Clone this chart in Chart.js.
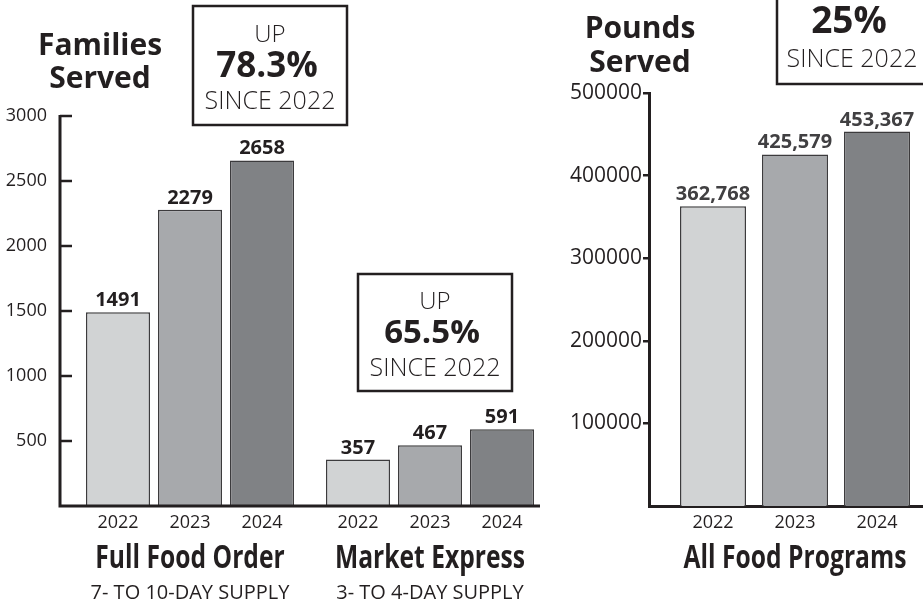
<!DOCTYPE html>
<html>
<head>
<meta charset="utf-8">
<script src="https://cdn.jsdelivr.net/npm/chart.js@4.4.1/dist/chart.umd.min.js"></script>
<style>
  html, body { margin: 0; padding: 0; background: #fff; overflow: hidden; width: 923px; height: 604px; }
  canvas { position: absolute; top: 0; }
  #families { left: 0; }
  #pounds { left: 560px; }
</style>
</head>
<body>
<canvas id="families" width="570" height="604"></canvas>
<canvas id="pounds" width="400" height="604"></canvas>
<script>
const years = ['2022', '2023', '2024'];
const yearColors = ['#d1d3d4', '#a7a9ac', '#808285'];

const familyPrograms = ['Full Food Order', 'Market Express'];
const familySupply = ['7- TO 10-DAY SUPPLY', '3- TO 4-DAY SUPPLY'];
const families2022 = [1491, 357];
const families2023 = [2279, 467];
const families2024 = [2658, 591];

const poundPrograms = ['All Food Programs'];
const poundSupply = [''];
const pounds2022 = [362768];
const pounds2023 = [425579];
const pounds2024 = [453367];

const INK = '#231f20';
Chart.defaults.font.family = "'Open Sans'";
Chart.defaults.color = INK;

const makeSets = (rows) => rows.map((data, i) => ({
  label: years[i],
  data: data,
  backgroundColor: yearColors[i],
  borderColor: '#3c3b3d',
  borderWidth: 1.5
}));

// values above bars, years under bars, program names under the groups
const barText = {
  id: 'barText',
  afterDatasetsDraw(chart, args, opts) {
    const ctx = chart.ctx;
    const bottom = chart.chartArea.bottom;
    ctx.save();
    ctx.textAlign = 'center';
    ctx.textBaseline = 'alphabetic';
    chart.data.datasets.forEach((ds, di) => {
      chart.getDatasetMeta(di).data.forEach((bar, i) => {
        ctx.fillStyle = opts.valueColor;
        ctx.font = 'bold 20px "Open Sans"';
        ctx.fillText(opts.format(ds.data[i]), bar.x, bar.y - 6);
        ctx.fillStyle = INK;
        ctx.font = '18px "Open Sans"';
        ctx.fillText(ds.label, bar.x, bottom + 22);
      });
    });
    const xs = chart.scales.x;
    chart.data.labels.forEach((lab, i) => {
      const cx = xs.getPixelForValue(i);
      ctx.fillStyle = INK;
      ctx.save();
      ctx.translate(cx, bottom + 62);
      ctx.scale(0.77, 1);
      ctx.font = 'bold 32px "Open Sans"';
      ctx.fillText(lab, 0, 0);
      ctx.restore();
      ctx.font = '20px "Open Sans"';
      ctx.fillText(opts.supply[i], cx, bottom + 93);
    });
    ctx.restore();
  }
};

// titles and the "UP ... SINCE 2022" boxes
const decor = {
  id: 'decor',
  afterDraw(chart, args, opts) {
    const ctx = chart.ctx;
    ctx.save();
    ctx.fillStyle = INK;
    ctx.textAlign = 'center';
    ctx.textBaseline = 'alphabetic';
    ctx.font = 'bold 30px "Open Sans"';
    opts.title.lines.forEach((t, i) => ctx.fillText(t, opts.title.x, opts.title.y[i]));
    opts.boxes.forEach(b => {
      ctx.strokeStyle = INK;
      ctx.lineWidth = 2.5;
      ctx.strokeRect(b.x, b.y, b.w, b.h);
      ctx.font = '300 24px "Open Sans"';
      ctx.fillText('UP', b.cx, b.y1);
      ctx.font = 'bold ' + b.size + 'px "Open Sans"';
      ctx.fillText(b.pct, b.cx - 3, b.y2);
      ctx.font = '300 25px "Open Sans"';
      ctx.fillText('SINCE 2022', b.cx, b.y3);
    });
    ctx.restore();
  }
};

// axis lines + short tick marks pointing into the plot (left chart)
const leftAxes = {
  id: 'leftAxes',
  afterDraw(chart, args, opts) {
    const ys = chart.scales.y;
    const ctx = chart.ctx;
    const ax = opts.axisX;
    const top = ys.getPixelForValue(ys.max);
    const bottom = chart.chartArea.bottom;
    ctx.save();
    ctx.strokeStyle = INK;
    ctx.lineWidth = 3;
    ctx.beginPath();
    ctx.moveTo(ax, top - 1);
    ctx.lineTo(ax, bottom);
    ctx.lineTo(chart.chartArea.right - 10, bottom);
    ctx.stroke();
    ctx.lineWidth = 2.5;
    ys.ticks.forEach(t => {
      if (t.value === 0) return;
      const y = ys.getPixelForValue(t.value);
      ctx.beginPath();
      ctx.moveTo(ax, y);
      ctx.lineTo(ax + 12, y);
      ctx.stroke();
    });
    ctx.restore();
  }
};

new Chart(document.getElementById('families'), {
  type: 'bar',
  data: {
    labels: familyPrograms,
    datasets: makeSets([families2022, families2023, families2024])
  },
  options: {
    responsive: false,
    animation: false,
    categoryPercentage: 0.9,
    barPercentage: 0.89,
    layout: { padding: { top: 116, right: 20, left: 0, bottom: 0 } },
    plugins: {
      legend: { display: false },
      tooltip: { enabled: false },
      barText: { valueColor: INK, format: v => String(v), supply: familySupply },
      leftAxes: { axisX: 60 },
      decor: {
        title: { lines: ['Families', 'Served'], x: 100, y: [55, 88] },
        boxes: [
          { x: 193, y: 6, w: 154, h: 119, cx: 270, y1: 42, y2: 77, y3: 109, pct: '78.3%', size: 35 },
          { x: 358, y: 274, w: 154, h: 117, cx: 435, y1: 309, y2: 343, y3: 376, pct: '65.5%', size: 33 }
        ]
      }
    },
    scales: {
      x: {
        grid: { display: false },
        border: { display: false },
        ticks: { display: false },
        afterFit: s => { s.height = 98; }
      },
      y: {
        min: 0,
        max: 3000,
        grid: { display: false, drawTicks: false },
        border: { display: false },
        ticks: {
          stepSize: 500,
          padding: 23,
          font: { size: 18 },
          callback: v => v === 0 ? null : String(v)
        },
        afterFit: s => { s.width = 70; }
      }
    }
  },
  plugins: [barText, decor, leftAxes]
});

new Chart(document.getElementById('pounds'), {
  type: 'bar',
  data: {
    labels: poundPrograms,
    datasets: makeSets([pounds2022, pounds2023, pounds2024])
  },
  options: {
    responsive: false,
    animation: false,
    categoryPercentage: 0.8425,
    barPercentage: 0.805,
    layout: { padding: { top: 93, right: 19, left: 0, bottom: 0 } },
    plugins: {
      legend: { display: false },
      tooltip: { enabled: false },
      barText: { valueColor: '#414042', format: v => v.toLocaleString('en-US'), supply: poundSupply },
      decor: {
        title: { lines: ['Pounds', 'Served'], x: 80, y: [38, 72] },
        boxes: [
          { x: 217, y: -40, w: 152, h: 124, cx: 292, y1: -4, y2: 33, y3: 67, pct: '25%', size: 37 }
        ]
      }
    },
    scales: {
      x: {
        z: 1,
        grid: { display: false },
        border: { display: true, color: INK, width: 3 },
        ticks: { display: false },
        afterFit: s => { s.height = 98; }
      },
      y: {
        z: 1,
        min: 0,
        max: 500000,
        grid: { display: true, drawOnChartArea: false, drawTicks: true, tickLength: 6, lineWidth: 2.5, color: INK },
        border: { display: true, color: INK, width: 3 },
        ticks: {
          stepSize: 100000,
          padding: 1,
          font: { size: 21 },
          callback: v => v === 0 ? null : String(v)
        },
        afterFit: s => { s.width = 89; }
      }
    }
  },
  plugins: [barText, decor]
});
</script>
</body>
</html>
